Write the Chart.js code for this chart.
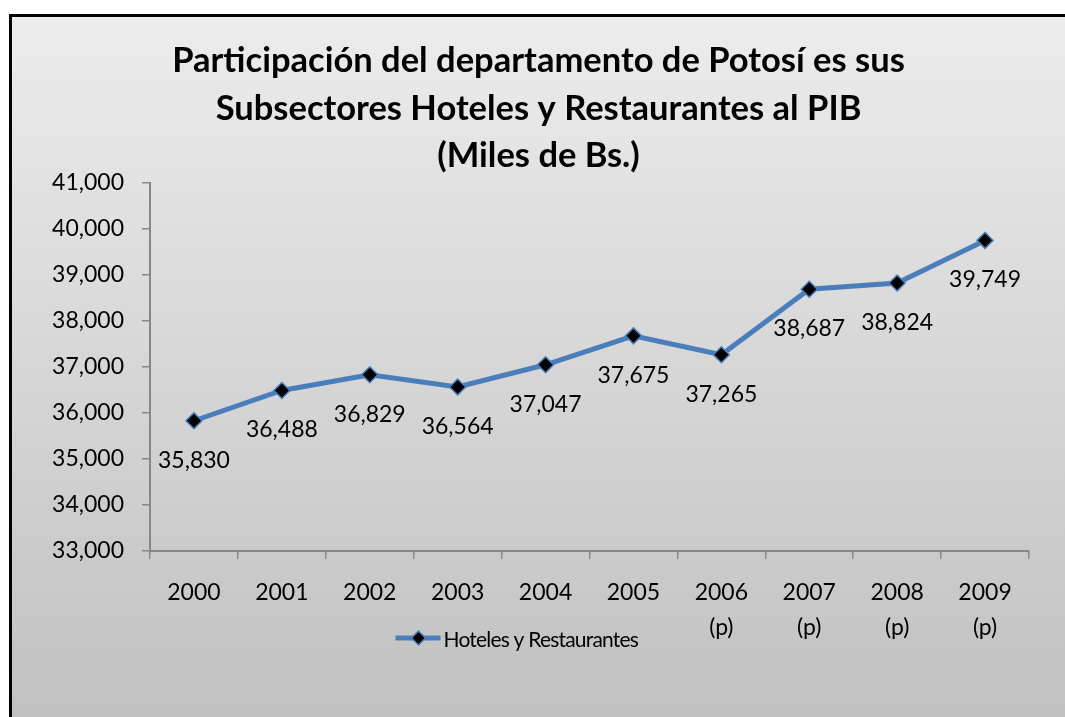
<!DOCTYPE html>
<html>
<head>
<meta charset="utf-8">
<script src="https://cdn.jsdelivr.net/npm/chart.js@4"></script>
<style>
  html, body { margin: 0; padding: 0; background: #fff; overflow: hidden; width: 1065px; height: 717px; }
  #frame {
    position: absolute; left: 9px; top: 14px; width: 1100px; height: 760px;
    border: 3px solid #000;
    background: linear-gradient(to bottom, #ececec 0%, #bdbdbd 100%);
  }
  #chart { position: absolute; left: 0; top: 0; }
</style>
</head>
<body>
<div id="frame"><canvas id="chart" width="1062" height="700"></canvas></div>
<script>
// data
const years = ['2000', '2001', '2002', '2003', '2004', '2005', ['2006', '(p)'], ['2007', '(p)'], ['2008', '(p)'], ['2009', '(p)']];
const hotelesRestaurantes = [35830, 36488, 36829, 36564, 37047, 37675, 37265, 38687, 38824, 39749];
const seriesName = 'Hoteles y Restaurantes';
const titleLines = ['Participación del departamento de Potosí es sus', 'Subsectores Hoteles y Restaurantes al PIB', '(Miles de Bs.)'];

const lineColor = '#4a7ebb';
const axisColor = '#878787';
const fontFamily = 'Lato, "Open Sans", sans-serif';

function fmt(v) {
  return v.toLocaleString('en-US');
}

// value labels under each point
const valueLabels = {
  id: 'valueLabels',
  afterDatasetsDraw(chart) {
    const ctx = chart.ctx;
    const meta = chart.getDatasetMeta(0);
    ctx.save();
    ctx.font = '23px ' + fontFamily;
    ctx.fillStyle = '#000';
    ctx.textAlign = 'center';
    ctx.textBaseline = 'alphabetic';
    meta.data.forEach((pt, i) => {
      ctx.fillText(fmt(hotelesRestaurantes[i]), pt.x, pt.y + 47);
    });
    ctx.restore();
  }
};

// legend sits over the second row of x labels, like the original
const overlapLegend = {
  id: 'overlapLegend',
  afterDraw(chart) {
    const ctx = chart.ctx;
    const area = chart.chartArea;
    const y = area.bottom + 87;
    const x0 = (area.left + area.right) / 2 - 194;
    ctx.save();
    ctx.strokeStyle = lineColor;
    ctx.lineWidth = 5;
    ctx.beginPath();
    ctx.moveTo(x0, y);
    ctx.lineTo(x0 + 45, y);
    ctx.stroke();
    ctx.fillStyle = '#000';
    ctx.beginPath();
    ctx.moveTo(x0 + 23, y - 7);
    ctx.lineTo(x0 + 30, y);
    ctx.lineTo(x0 + 23, y + 7);
    ctx.lineTo(x0 + 16, y);
    ctx.closePath();
    ctx.fill();
    ctx.lineWidth = 1.5;
    ctx.stroke();
    ctx.font = '21px ' + fontFamily;
    ctx.letterSpacing = '-0.8px';
    ctx.textAlign = 'left';
    ctx.textBaseline = 'alphabetic';
    ctx.fillText(seriesName, x0 + 48, y + 9);
    ctx.restore();
  }
};

new Chart('chart', {
  type: 'line',
  data: {
    labels: years,
    datasets: [{
      label: seriesName,
      data: hotelesRestaurantes,
      borderColor: lineColor,
      borderWidth: 5,
      tension: 0,
      pointStyle: 'rectRot',
      pointRadius: 8,
      pointBackgroundColor: '#000',
      pointBorderColor: lineColor,
      pointBorderWidth: 1.5
    }]
  },
  plugins: [valueLabels, overlapLegend],
  options: {
    responsive: false,
    animation: false,
    layout: { padding: { left: 36, right: 45, top: 0, bottom: 0 } },
    plugins: {
      legend: { display: false },
      tooltip: { enabled: false },
      title: {
        display: true,
        text: titleLines,
        color: '#000',
        font: { family: fontFamily, size: 34.5, weight: 'bold', lineHeight: 1.38 },
        padding: { top: 20, bottom: 3 }
      }
    },
    scales: {
      x: {
        offset: true,
        grid: { offset: true, drawOnChartArea: false, color: axisColor, tickLength: 8, lineWidth: 1.5 },
        border: { color: axisColor, width: 2 },
        ticks: { color: '#000', font: { family: fontFamily, size: 23, lineHeight: 1.52 }, padding: 16, maxRotation: 0, autoSkip: false },
        afterFit: s => { s.height = 166; }
      },
      y: {
        min: 33000,
        max: 41000,
        ticks: { stepSize: 1000, color: '#000', font: { family: fontFamily, size: 23 }, padding: 18, callback: v => fmt(v) },
        grid: { drawOnChartArea: false, color: axisColor, tickLength: 8, lineWidth: 1.5 },
        border: { color: axisColor, width: 2 },
        afterFit: s => { s.width = 102; }
      }
    }
  }
});
</script>
</body>
</html>
